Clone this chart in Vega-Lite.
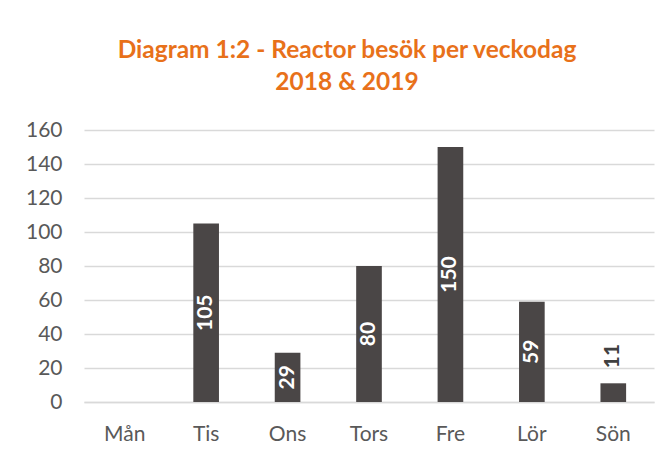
{
  "$schema": "https://vega.github.io/schema/vega-lite/v6.json",
  "width": 570,
  "height": 272,
  "autosize": "none",
  "padding": {"left": 84, "top": 130, "right": 15, "bottom": 55},
  "background": "white",
  "title": {
    "text": ["Diagram 1:2 - Reactor besök per veckodag", "2018 & 2019"],
    "font": "Lato",
    "fontSize": 24.5,
    "fontWeight": "bold",
    "color": "#E8711A",
    "lineHeight": 32,
    "anchor": "middle",
    "dx": -22,
    "offset": 24
  },
  "config": {
    "view": {"stroke": null},
    "axis": {"labelFont": "Lato", "labelFontSize": 21, "labelColor": "#595959", "ticks": false, "title": null}
  },
  "data": {
    "values": [
      {"dag": "Mån", "besok": 0},
      {"dag": "Tis", "besok": 105},
      {"dag": "Ons", "besok": 29},
      {"dag": "Tors", "besok": 80},
      {"dag": "Fre", "besok": 150},
      {"dag": "Lör", "besok": 59},
      {"dag": "Sön", "besok": 11}
    ]
  },
  "encoding": {
    "x": {
      "field": "dag",
      "type": "nominal",
      "sort": null,
      "scale": {"paddingInner": 0.685, "paddingOuter": 0.3425},
      "axis": {"labelAngle": 0, "labelPadding": 21, "domainColor": "#d9d9d9", "domainWidth": 1.5, "grid": false}
    }
  },
  "layer": [
    {
      "layer": [
        {"mark": {"type": "bar", "color": "#4a4646"}},
        {
          "transform": [{"filter": "datum.besok > 0 && datum.besok < 20"}],
          "mark": {"type": "text", "angle": 270, "align": "left", "baseline": "middle", "dx": 15, "font": "Lato", "fontSize": 21, "fontWeight": "bold", "color": "#404040"},
          "encoding": {
            "text": {"field": "besok", "type": "quantitative"}
          }
        }
      ],
      "encoding": {
        "y": {
          "field": "besok",
          "type": "quantitative",
          "scale": {"domain": [0, 160]},
          "axis": {"values": [0, 20, 40, 60, 80, 100, 120, 140, 160], "labelPadding": 22, "domain": false, "grid": true, "gridColor": "#d9d9d9", "gridWidth": 1.5}
        }
      }
    },
    {
      "transform": [{"filter": "datum.besok >= 20"}],
      "mark": {"type": "text", "angle": 270, "align": "center", "baseline": "middle", "font": "Lato", "fontSize": 21, "fontWeight": "bold", "color": "white"},
      "encoding": {
        "y": {"field": "besok", "type": "quantitative", "scale": {"domain": [0, 320]}, "axis": null},
        "text": {"field": "besok", "type": "quantitative"}
      }
    }
  ],
  "resolve": {"scale": {"y": "independent"}}
}
